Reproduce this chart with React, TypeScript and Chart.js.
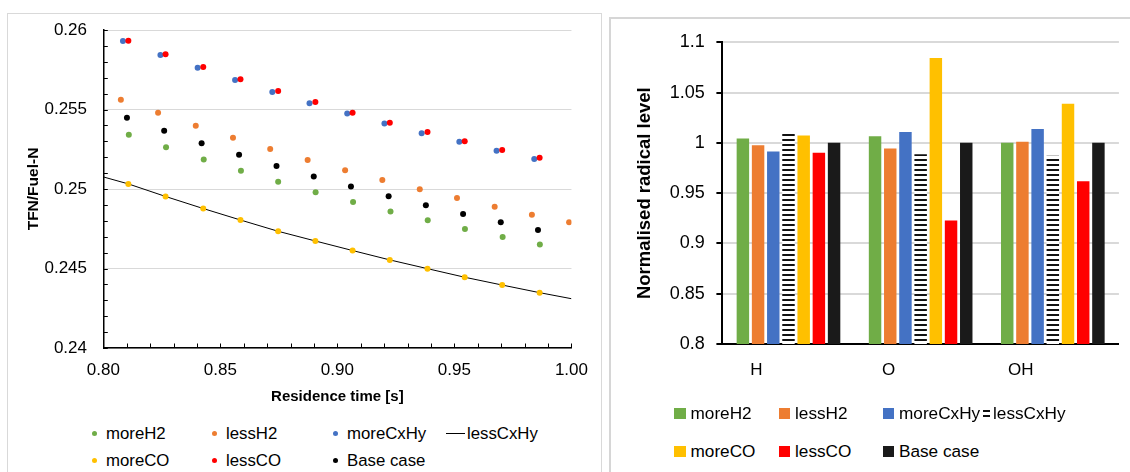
import React, { useEffect, useRef } from 'react';
import { Chart, registerables } from 'chart.js';

Chart.register(...registerables);

const FONT = "'Liberation Sans', Arial, sans-serif";

const GREEN = '#70AD47';
const ORANGE = '#ED7D31';
const BLUE = '#4472C4';
const YELLOW = '#FFC000';
const RED = '#FF0000';
const BLACK = '#000000';
const DARK = '#1a1a1a';

// ---------- Left chart: TFN/Fuel-N vs residence time ----------
const moreH2X = [0.8109, 0.8268, 0.8429, 0.8588, 0.8747, 0.8907, 0.9067, 0.9227, 0.9386, 0.9545, 0.9706, 0.9865];
const moreH2Y = [0.25341, 0.25263, 0.25186, 0.25114, 0.25045, 0.2498, 0.24919, 0.24858, 0.24804, 0.24749, 0.24698, 0.24651];

const lessH2X = [0.8075, 0.8234, 0.8395, 0.8554, 0.8713, 0.8873, 0.9033, 0.9192, 0.9352, 0.9511, 0.9672, 0.9831, 0.999];
const lessH2Y = [0.25562, 0.2548, 0.25398, 0.25323, 0.25252, 0.25182, 0.25118, 0.25057, 0.24998, 0.24943, 0.24888, 0.24838, 0.24791];

const moreCxHyX = [0.8084, 0.8244, 0.8403, 0.8563, 0.8722, 0.8881, 0.9042, 0.9201, 0.936, 0.9521, 0.968, 0.9841];
const moreCxHyY = [0.25931, 0.25843, 0.25763, 0.25685, 0.2561, 0.2554, 0.25475, 0.25412, 0.25351, 0.25297, 0.2524, 0.25188];

const lessCxHyX = [0.8, 0.8107, 0.8266, 0.8427, 0.8586, 0.8747, 0.8906, 0.9065, 0.9224, 0.9385, 0.9544, 0.9704, 0.9864, 1.0];
const lessCxHyY = [0.25076, 0.25032, 0.24953, 0.24877, 0.24805, 0.24734, 0.24673, 0.24613, 0.24554, 0.24499, 0.24445, 0.24396, 0.24348, 0.2431];

const moreCOX = [0.8107, 0.8266, 0.8427, 0.8586, 0.8747, 0.8906, 0.9065, 0.9224, 0.9385, 0.9544, 0.9704, 0.9864];
const moreCOY = [0.25032, 0.24953, 0.24877, 0.24805, 0.24734, 0.24673, 0.24613, 0.24554, 0.24499, 0.24445, 0.24396, 0.24348];

const lessCOX = [0.8107, 0.8266, 0.8427, 0.8586, 0.8747, 0.8906, 0.9065, 0.9224, 0.9385, 0.9544, 0.9704, 0.9864];
const lessCOY = [0.25933, 0.25847, 0.25767, 0.2569, 0.25616, 0.25547, 0.25479, 0.25416, 0.25358, 0.25301, 0.25246, 0.25196];

const baseX = [0.8101, 0.826, 0.842, 0.858, 0.874, 0.8899, 0.9058, 0.9219, 0.9378, 0.9537, 0.9698, 0.9857];
const baseY = [0.25448, 0.25366, 0.25288, 0.25215, 0.25145, 0.25079, 0.25016, 0.24955, 0.24898, 0.24843, 0.24791, 0.24742];

const xAxisTitle = 'Residence time [s]';
const yAxisTitleLeft = 'TFN/Fuel-N';

// ---------- Right chart: normalised radical level ----------
const radicals = ['H', 'O', 'OH'];
const barMoreH2 = [1.0043, 1.0067, 1.0];
const barLessH2 = [0.9977, 0.9943, 1.001];
const barMoreCxHy = [0.9914, 1.0109, 1.0139];
const barLessCxHy = [1.0099, 0.9888, 0.9871];
const barMoreCO = [1.0073, 1.0845, 1.0388];
const barLessCO = [0.9901, 0.9228, 0.9619];
const barBase = [1.0, 1.0, 1.0];
const yAxisTitleRight = 'Normalised radical level';

const pts = (xs: number[], ys: number[]) => xs.map((x, i) => ({ x, y: ys[i] }));

const innerTicks = {
  id: 'innerTicks',
  beforeDatasetsDraw(chart: any) {
    const { ctx, chartArea, scales } = chart;
    ctx.save();
    ctx.strokeStyle = '#000';
    ctx.lineWidth = 1;
    ctx.beginPath();
    scales.y.ticks.forEach((t: any) => {
      const py = Math.round(scales.y.getPixelForValue(t.value)) + 0.5;
      ctx.moveTo(chartArea.left, py);
      ctx.lineTo(chartArea.left + 4.5, py);
    });
    scales.x.ticks.forEach((t: any) => {
      const px = Math.round(scales.x.getPixelForValue(t.value)) + 0.5;
      ctx.moveTo(px, chartArea.bottom);
      ctx.lineTo(px, chartArea.bottom - 4.5);
    });
    ctx.stroke();
    ctx.restore();
  },
};

function ScatterChart() {
  const ref = useRef<HTMLCanvasElement>(null);
  useEffect(() => {
    const dot = (label: string, xs: number[], ys: number[], color: string, order: number) => ({
      label,
      data: pts(xs, ys),
      backgroundColor: color,
      borderColor: color,
      pointRadius: 3,
      pointBorderWidth: 0,
      showLine: false,
      order,
    });
    const isMajorY = (v: number) => Math.abs(v * 1000 - Math.round(v * 200) * 5) < 1e-6;
    const chart = new Chart(ref.current as HTMLCanvasElement, {
      type: 'scatter',
      data: {
        datasets: [
          dot('moreH2', moreH2X, moreH2Y, GREEN, 7),
          dot('lessH2', lessH2X, lessH2Y, ORANGE, 6),
          dot('moreCxHy', moreCxHyX, moreCxHyY, BLUE, 5),
          {
            label: 'lessCxHy',
            data: pts(lessCxHyX, lessCxHyY),
            borderColor: BLACK,
            backgroundColor: BLACK,
            borderWidth: 1,
            pointRadius: 0,
            showLine: true,
            fill: false,
            tension: 0,
            order: 20,
          } as any,
          dot('moreCO', moreCOX, moreCOY, YELLOW, 3),
          dot('lessCO', lessCOX, lessCOY, RED, 2),
          dot('Base case', baseX, baseY, BLACK, 1),
        ],
      },
      options: {
        responsive: false,
        animation: false,
        layout: { padding: { top: 30, right: 25.2, left: 0, bottom: 0 } },
        plugins: { legend: { display: false }, tooltip: { enabled: false } },
        scales: {
          x: {
            type: 'linear',
            min: 0.8,
            max: 1.0,
            afterFit: (s: any) => { s.height = 72; },
            ticks: {
              stepSize: 0.01,
              autoSkip: false,
              maxRotation: 0,
              padding: 12,
              color: '#000',
              font: { family: FONT, size: 17 },
              callback: (v: any) => (Math.round(Number(v) * 100) % 5 === 0 ? Number(v).toFixed(2) : ''),
            },
            grid: { color: 'transparent', drawTicks: false },
            border: { color: '#000', width: 1.5 },
            title: {
              display: true,
              text: xAxisTitle,
              color: '#000',
              font: { family: FONT, size: 15, weight: 'bold' },
              padding: { top: 0, bottom: 14.3 },
            },
          },
          y: {
            min: 0.24,
            max: 0.26,
            afterFit: (s: any) => { s.width = 103.3; },
            ticks: {
              stepSize: 0.001,
              autoSkip: false,
              padding: 16.3,
              color: '#000',
              font: { family: FONT, size: 17 },
              callback: (v: any) => (isMajorY(Number(v)) ? String(parseFloat(Number(v).toFixed(3))) : ''),
            },
            grid: {
              color: (c: any) => (isMajorY(c.tick.value) ? '#d9d9d9' : 'transparent'),
              drawTicks: false,
              lineWidth: 1,
            },
            border: { color: '#000', width: 1.5 },
            title: {
              display: true,
              text: yAxisTitleLeft,
              color: '#000',
              font: { family: FONT, size: 15.5, weight: 'bold' },
              padding: { top: 24.2, bottom: 0 },
            },
          },
        },
      } as any,
      plugins: [innerTicks],
    });
    return () => chart.destroy();
  }, []);
  return (
    <canvas
      ref={ref}
      width={600}
      height={420}
      style={{ position: 'absolute', left: 0, top: 0, width: 600, height: 420 }}
    />
  );
}

function makeHatch(): CanvasPattern | string {
  const c = document.createElement('canvas');
  c.width = 8;
  c.height = 5;
  const g = c.getContext('2d');
  if (!g) return '#888';
  g.fillStyle = '#ffffff';
  g.fillRect(0, 0, 8, 5);
  g.fillStyle = '#111111';
  g.fillRect(0, 0, 8, 2);
  return g.createPattern(c, 'repeat') || '#888';
}

function BarChart() {
  const ref = useRef<HTMLCanvasElement>(null);
  useEffect(() => {
    const hatch = makeHatch();
    const bar = (label: string, data: number[], color: any) => ({
      label,
      data,
      backgroundColor: color,
      borderWidth: 0,
      categoryPercentage: 0.805,
      barPercentage: 0.82,
    });
    const chart = new Chart(ref.current as HTMLCanvasElement, {
      type: 'bar',
      data: {
        labels: radicals,
        datasets: [
          bar('moreH2', barMoreH2, GREEN),
          bar('lessH2', barLessH2, ORANGE),
          bar('moreCxHy', barMoreCxHy, BLUE),
          bar('lessCxHy', barLessCxHy, hatch),
          bar('moreCO', barMoreCO, YELLOW),
          bar('lessCO', barLessCO, RED),
          bar('Base case', barBase, DARK),
        ],
      },
      options: {
        responsive: false,
        animation: false,
        layout: { padding: { top: 23.3, right: 11.1, left: 0, bottom: 0 } },
        plugins: { legend: { display: false }, tooltip: { enabled: false } },
        scales: {
          x: {
            afterFit: (s: any) => { s.height = 65; },
            grid: { color: 'transparent', drawTicks: false },
            border: { color: '#000', width: 2 },
            ticks: {
              padding: 15.8,
              labelOffset: -32,
              color: '#000',
              font: { family: FONT, size: 17 },
            },
          },
          y: {
            min: 0.8,
            max: 1.1,
            afterFit: (s: any) => { s.width = 112.4; },
            ticks: {
              stepSize: 0.05,
              padding: 11.6,
              color: '#000',
              font: { family: FONT, size: 18 },
              callback: (v: any) => String(parseFloat(Number(v).toFixed(2))),
            },
            grid: { color: '#d9d9d9', lineWidth: 2, tickColor: '#000', tickLength: 6, tickWidth: 2 },
            border: { color: '#000', width: 2 },
            title: {
              display: true,
              text: yAxisTitleRight,
              color: '#000',
              font: { family: FONT, size: 18.5, weight: 'bold' },
              padding: { top: 23.4, bottom: 0 },
            },
          },
        },
      } as any,
    });
    return () => chart.destroy();
  }, []);
  return (
    <canvas
      ref={ref}
      width={520}
      height={390}
      style={{ position: 'absolute', left: 610, top: 19, width: 520, height: 390 }}
    />
  );
}

type LegendEntry = { label: string; color: string; kind: 'dot' | 'line' | 'square' | 'hatch' };

const scatterLegend: LegendEntry[] = [
  { label: 'moreH2', color: GREEN, kind: 'dot' },
  { label: 'lessH2', color: ORANGE, kind: 'dot' },
  { label: 'moreCxHy', color: BLUE, kind: 'dot' },
  { label: 'lessCxHy', color: BLACK, kind: 'line' },
  { label: 'moreCO', color: YELLOW, kind: 'dot' },
  { label: 'lessCO', color: RED, kind: 'dot' },
  { label: 'Base case', color: BLACK, kind: 'dot' },
];

const barLegend: LegendEntry[] = [
  { label: 'moreH2', color: GREEN, kind: 'square' },
  { label: 'lessH2', color: ORANGE, kind: 'square' },
  { label: 'moreCxHy', color: BLUE, kind: 'square' },
  { label: 'lessCxHy', color: BLACK, kind: 'hatch' },
  { label: 'moreCO', color: YELLOW, kind: 'square' },
  { label: 'lessCO', color: RED, kind: 'square' },
  { label: 'Base case', color: DARK, kind: 'square' },
];

function Marker({ e }: { e: LegendEntry }) {
  if (e.kind === 'dot') {
    return <span style={{ display: 'inline-block', width: 5.5, height: 5.5, borderRadius: '50%', background: e.color, marginRight: 9, marginLeft: 3 }} />;
  }
  if (e.kind === 'line') {
    return <span style={{ display: 'inline-block', width: 19, height: 1, background: e.color, marginRight: 2 }} />;
  }
  if (e.kind === 'hatch') {
    return (
      <span style={{ display: 'inline-block', width: 7, height: 7, marginRight: 3, marginLeft: 0, borderTop: '2px solid #111', borderBottom: '2px solid #111', boxSizing: 'border-box', background: '#fff' }} />
    );
  }
  return <span style={{ display: 'inline-block', width: 11.5, height: 11.5, background: e.color, marginRight: 5 }} />;
}

function Legend({ items, positions, size }: { items: LegendEntry[]; positions: [number, number][]; size: number }) {
  return (
    <>
      {items.map((e, i) => (
        <div
          key={e.label + i}
          style={{
            position: 'absolute',
            left: positions[i][0],
            top: positions[i][1] - 11,
            height: 22,
            display: 'flex',
            alignItems: 'center',
            fontFamily: FONT,
            fontSize: size,
            color: '#000',
            whiteSpace: 'nowrap',
          }}
        >
          <Marker e={e} />
          <span>{e.label}</span>
        </div>
      ))}
    </>
  );
}

const scatterLegendPos: [number, number][] = [
  [88.5, 433.5], [208.5, 433.5], [329.5, 433.5], [446, 433.5],
  [88.5, 460.5], [208.5, 460.5], [329.5, 460.5],
];
const barLegendPos: [number, number][] = [
  [674, 413.5], [778.5, 413.5], [882.5, 413.5], [983, 413.5],
  [674, 451.5], [778.5, 451.5], [882.5, 451.5],
];

export default function App() {
  return (
    <div style={{ position: 'fixed', left: 0, top: 0, width: 1130, height: 472, overflow: 'hidden', background: '#fff' }}>
      <div style={{ position: 'absolute', left: 7, top: 13, width: 595, height: 480, boxSizing: 'border-box', border: '1.5px solid #d9d9d9' }} />
      <div style={{ position: 'absolute', left: 608.5, top: 16.5, width: 560, height: 480, boxSizing: 'border-box', border: '2px solid #d6d6d6' }} />
      <ScatterChart />
      <BarChart />
      <Legend items={scatterLegend} positions={scatterLegendPos} size={16.8} />
      <Legend items={barLegend} positions={barLegendPos} size={17.2} />
    </div>
  );
}
